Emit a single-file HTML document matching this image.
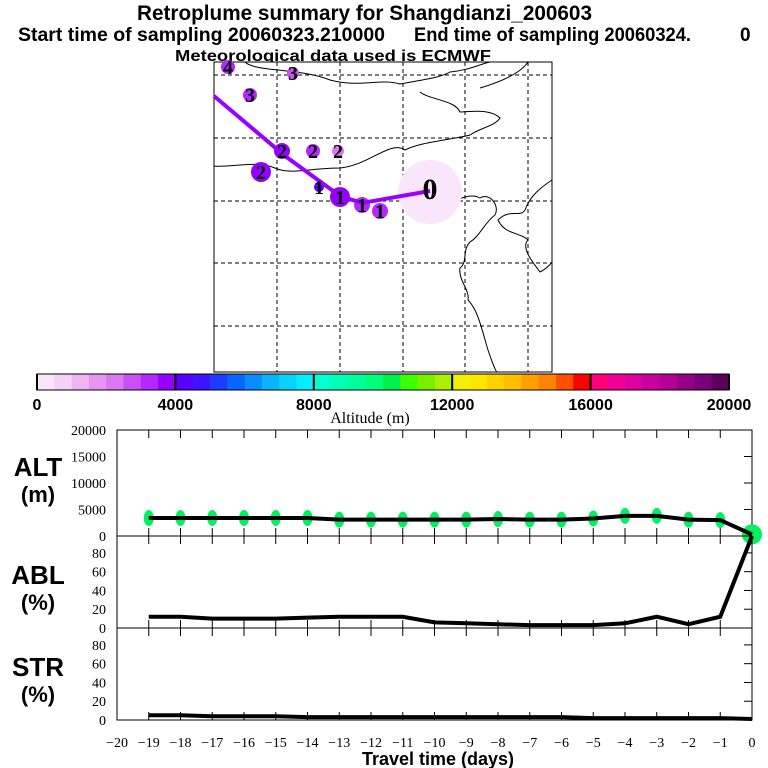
<!DOCTYPE html>
<html><head><meta charset="utf-8"><style>
body{margin:0;background:#fff;}
svg{display:block;font-family:"Liberation Sans",sans-serif;}
.t{font-weight:bold;}
.ser{font-family:"Liberation Serif",serif;}
</style></head><body>
<svg id="c" width="768" height="768" viewBox="0 0 768 768">
<text x="137" y="20" textLength="455" lengthAdjust="spacingAndGlyphs" font-size="21" class="t">Retroplume summary for Shangdianzi_200603</text>
<text x="18" y="41" textLength="367" lengthAdjust="spacingAndGlyphs" font-size="19" class="t">Start time of sampling 20060323.210000</text>
<text x="414" y="41" textLength="277" lengthAdjust="spacingAndGlyphs" font-size="19" class="t">End time of sampling 20060324.</text>
<text x="740" y="41" font-size="19" class="t">0</text>
<text x="175" y="61" textLength="316" lengthAdjust="spacingAndGlyphs" font-size="16" class="t">Meteorological data used is ECMWF</text>
<g id="map"></g>
<g id="cbar"></g>
<g id="panels"></g>
</svg>
<script>
const NS="http://www.w3.org/2000/svg";
const svg=document.getElementById('c');
function mk(tag,attrs,parent,txt){const e=document.createElementNS(NS,tag);for(const k in attrs)e.setAttribute(k,attrs[k]);if(txt!==undefined)e.textContent=txt;(parent||svg).appendChild(e);return e;}

// ---- data ----
const days=[-19,-18,-17,-16,-15,-14,-13,-12,-11,-10,-9,-8,-7,-6,-5,-4,-3,-2,-1,0];
const altValues=[3400,3400,3400,3400,3400,3400,3100,3100,3100,3100,3100,3200,3100,3100,3300,3800,3800,3100,3000,300];
const ablValues=[12,12,10,10,10,11,12,12,12,6,5,4,3,3,3,5,12,4,12,98];
const strValues=[5,5,4,4,4,3,3,3,3,3,3,3,3,3,2,2,2,2,2,1];
const altTicks=[0,5000,10000,15000,20000];
const pctTicks=[0,20,40,60,80];
const xTicks=[-20,-19,-18,-17,-16,-15,-14,-13,-12,-11,-10,-9,-8,-7,-6,-5,-4,-3,-2,-1,0];
const cbTicks=[0,4000,8000,12000,16000,20000];
const cbColors=["#fae6fa","#f5d2f5","#f0b4f0","#e696f0","#dc78f0","#c850f5","#b428ff","#9600ff",
"#5a00ff","#3c14ff","#1e3cff","#0a64ff","#0a8cff","#0ab4ff","#0ad2ff","#00f0ff",
"#00ffd2","#00ffb4","#00ff96","#00ff78","#00f050","#3cff00","#78f000","#aaf000",
"#f0f000","#ffe600","#ffd200","#ffbe00","#ffa000","#ff8200","#ff5000","#ff0000",
"#ff0078","#f00096","#dc00a0","#c800a0","#b40096","#960082","#780078","#5a005a"];
const trajX=[214,285,340,362,430];
const trajY=[96,156,196,203,191];
const mkX=[228,293,250,282,313,338,261,319,340,362,380,430];
const mkY=[67,73,95,151,151,151,172,187,197,205,211,192];
const mkR=[7,6,7,8,7,6,10,5,10,8,8,32];
const mkC=["#b428ff","#c850f5","#b428ff","#9600ff","#b428ff","#dc78f0","#9600ff","#5a00ff","#9600ff","#b428ff","#b428ff","#fae6fa"];
const mkL=["4","3","3","2","2","2","2","1","1","1","1","0"];

// ---- map ----
const map=document.getElementById('map');
const mx0=214,mx1=552,my0=62,my1=372;
mk('rect',{x:mx0,y:my0,width:mx1-mx0,height:my1-my0,fill:'#fff',stroke:'#000','stroke-width':1},map);
[277,340,403,465,528].forEach(x=>mk('line',{x1:x,y1:my0,x2:x,y2:my1,stroke:'#000','stroke-dasharray':'4,3','stroke-width':1},map));
[75,138,201,263,326].forEach(y=>mk('line',{x1:mx0,y1:y,x2:mx1,y2:y,stroke:'#000','stroke-dasharray':'4,3','stroke-width':1},map));
mk('path',{d:"M245,62 C255,72 300,68 330,80 C360,88 380,78 400,84 C420,80 440,78 450,72 C470,70 480,64 490,62 M420,92 C430,100 455,100 460,112 C470,112 490,108 500,118 C495,126 480,128 470,135 C450,140 420,142 405,150 C390,140 370,165 340,168 C310,168 290,175 275,168 C255,160 230,168 214,166 M480,88 C500,82 520,74 528,62",fill:'none',stroke:'#000','stroke-width':1},map);
mk('path',{d:"M440,210 C455,200 470,192 480,198 C490,192 500,206 495,215 C485,222 480,236 470,242 C462,250 468,262 460,268 C458,280 470,290 468,300 C478,310 482,330 488,350 C492,362 496,372 497,372 M552,180 C540,188 530,196 525,210 C520,218 510,208 498,220 C505,235 520,232 528,240 C520,248 535,265 540,272 C548,268 552,262 552,262",fill:'none',stroke:'#000','stroke-width':1},map);
let tp='';for(let i=0;i<trajX.length;i++)tp+=(i?'L':'M')+trajX[i]+','+trajY[i];
for(let i=0;i<mkX.length;i++){
  const c=mk('circle',{cx:mkX[i],cy:mkY[i],r:mkR[i],fill:mkC[i]},map);
  
  
}
const tr=mk('path',{d:tp,fill:'none',stroke:'#9a00ff','stroke-width':4},map);


for(let i=0;i<mkX.length;i++){
  const t=mk('text',{x:mkX[i],y:mkY[i]+7,'text-anchor':'middle','font-size':i==11?30:20,class:'ser','font-weight':'bold'},map,mkL[i]);
  
  
}

// ---- colorbar ----
const cb=document.getElementById('cbar');
const cbx0=37,cbx1=729,cby=374,cbh=16;
const cs=v=>cbx0+(v-0)/20000*(cbx1-cbx0);
for(let i=0;i<cbColors.length;i++){
  const w=(cbx1-cbx0)/cbColors.length;
  const r=mk('rect',{x:cbx0+i*w,y:cby,width:w+0.5,height:cbh,fill:cbColors[i]},cb);
  
  
}
mk('rect',{x:cbx0,y:cby,width:cbx1-cbx0,height:cbh,fill:'none',stroke:'#000'},cb);
cbTicks.forEach(v=>{
  mk('line',{x1:cs(v),y1:cby,x2:cs(v),y2:cby+cbh,stroke:'#000','stroke-width':2},cb);
  const t=mk('text',{x:cs(v),y:410,'text-anchor':'middle','font-size':16,class:'t'},cb,String(v));
  
  
});
mk('text',{x:370,y:423,'text-anchor':'middle','font-size':16,class:'ser'},cb,'Altitude (m)');

// ---- panels ----
const px0=117,px1=752;
const xs=d=>px1+(d-0)*(px1-px0)/20;
const panels=[
 {name:'alt',top:430,bot:536,max:20000,ticks:altTicks,vals:altValues,lab1:'ALT',lab2:'(m)'},
 {name:'abl',top:536,bot:628,max:98,ticks:pctTicks,vals:ablValues,lab1:'ABL',lab2:'(%)'},
 {name:'str',top:628,bot:720,max:98,ticks:pctTicks,vals:strValues,lab1:'STR',lab2:'(%)'}];
const pg=document.getElementById('panels');
panels.forEach(p=>{
  const g=mk('g',{},pg);
  
  
  const ys=v=>p.bot-v/p.max*(p.bot-p.top);
  mk('rect',{x:px0,y:p.top,width:px1-px0,height:p.bot-p.top,fill:'none',stroke:'#000'},g);
  xTicks.forEach(d=>{mk('line',{x1:xs(d),y1:p.bot,x2:xs(d),y2:p.bot-8,stroke:'#000'},g);mk('line',{x1:xs(d),y1:p.top,x2:xs(d),y2:p.top+8,stroke:'#000'},g);});
  p.ticks.forEach(v=>{
    const y=ys(v);
    mk('line',{x1:px1,y1:y,x2:px1-8,y2:y,stroke:'#000'},g);
    const t=mk('text',{x:106,y:y+5,'text-anchor':'end','font-size':14,class:'ser'},g,String(v));
    
    
  });
  const l1=mk('text',{x:38,y:p.top+(p.name==='alt'?46:48),'text-anchor':'middle','font-size':26,class:'t'},g,p.lab1);
  
  const l2=mk('text',{x:38,y:p.top+(p.name==='alt'?72:74),'text-anchor':'middle','font-size':22,class:'t'},g,p.lab2);
  
  if(p.name==='alt'){
    for(let i=0;i<days.length;i++){
      const e=mk('ellipse',{cx:xs(days[i]),cy:ys(altValues[i]),rx:i==19?10:5,ry:i==19?10:8,fill:'#00f060'},g);
      
      
    }
  }
  let d='';for(let i=0;i<days.length;i++)d+=(i?'L':'M')+xs(days[i])+','+ys(p.vals[i]);
  const ln=mk('path',{d:d,fill:'none',stroke:'#000','stroke-width':4},g);
  
  
});
xTicks.forEach(d=>{
  const t=mk('text',{x:xs(d),y:747,'text-anchor':'middle','font-size':14,class:'ser'},svg,String(d).replace('-','\u2212'));
  
  
});
mk('text',{x:438,y:765,'text-anchor':'middle','font-size':18,class:'t'},svg,'Travel time (days)');
</script>
</body></html>
